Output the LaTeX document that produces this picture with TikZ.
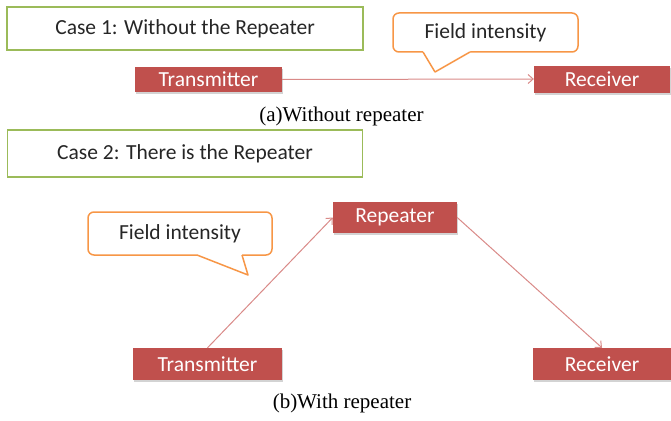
\documentclass[tikz,border=0pt]{standalone}
\usepackage{fontspec}
\setmainfont{Liberation Serif}
\newfontfamily\calib{Carlito}
\usetikzlibrary{arrows.meta,shadows}
\definecolor{boxred}{HTML}{C0504D}
\definecolor{boxgreen}{HTML}{9BBB59}
\definecolor{boxorange}{HTML}{F79646}
\definecolor{arrred}{HTML}{D98A88}
\definecolor{txtgray}{HTML}{262626}
\tikzset{
  casebox/.style={draw=boxgreen, line width=1.5pt, fill=white, inner sep=0pt,
    font=\calib\fontsize{21.5}{24}\selectfont, text=txtgray},
  redbox/.style={fill=boxred, inner sep=0pt, text=white,
    font=\calib\fontsize{21.5}{24}\selectfont,
    drop shadow={opacity=0.35, shadow xshift=1pt, shadow yshift=-2pt}},
  callout/.style={draw=boxorange, line width=1.5pt, fill=white, rounded corners=6pt,
    inner sep=0pt, font=\calib\fontsize{21.5}{24}\selectfont, text=txtgray},
  pointer/.style={draw=boxorange, line width=1.5pt, line join=round},
  link/.style={draw=arrred, line width=1pt, -{Straight Barb[length=5pt,width=9pt]}},
  caption/.style={inner sep=0pt, font=\fontsize{21}{24}\selectfont}
}
\begin{document}
\begin{tikzpicture}[x=1pt,y=-1pt]
\useasboundingbox (0,0) rectangle (671,420);
% Case 1
\node[casebox, minimum width=356pt, minimum height=43pt] (case1) at (185,28.5) {Case 1: Without the Repeater};
\node[callout, minimum width=185pt, minimum height=39pt] (fi1) at (485.5,32.5) {Field intensity};
\fill[white] (423,49) -- (423,52) -- (435,72) -- (470,52) -- (470,49) -- cycle;
\draw[pointer] (423,52) -- (435,72) -- (470,52);
\node[redbox, minimum width=147pt, minimum height=25pt] (t1) at (208.5,79.5) {Transmitter};
\node[redbox, minimum width=136pt, minimum height=27pt] (r1) at (602,79) {Receiver};
\draw[link] (t1.east) -- (r1.west);
\node[caption] (capa) at (341.5,116) {(a)Without repeater};
% Case 2
\node[casebox, minimum width=355pt, minimum height=47pt] (case2) at (185,153.5) {Case 2: There is the Repeater};
\node[callout, minimum width=184pt, minimum height=43pt] (fi2) at (180,233.5) {Field intensity};
\fill[white] (197,252) -- (197,255) -- (248,275) -- (242,255) -- (242,252) -- cycle;
\draw[pointer] (197,255) -- (248,275) -- (242,255);
\node[redbox, minimum width=124pt, minimum height=31pt] (rep) at (395,217.5) {Repeater};
\node[redbox, minimum width=149pt, minimum height=32pt] (t2) at (207.5,364) {Transmitter};
\node[redbox, minimum width=138pt, minimum height=32pt] (r2) at (602,364) {Receiver};
\draw[link] (t2.north) -- (rep.west);
\draw[link] (rep.east) -- (r2.north);
\node[caption] (capb) at (342,403) {(b)With repeater};
\end{tikzpicture}
\end{document}
